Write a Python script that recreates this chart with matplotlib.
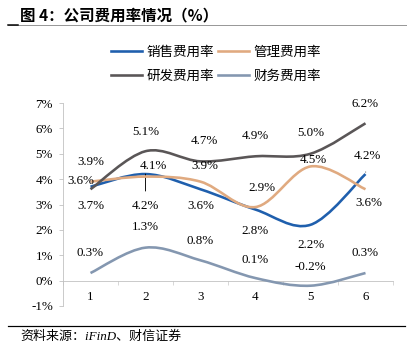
import matplotlib
matplotlib.use("Agg")
import matplotlib.pyplot as plt
from matplotlib.path import Path
from matplotlib.patches import PathPatch
from matplotlib.lines import Line2D

plt.rcParams['font.family'] = ['Liberation Serif', 'Noto Sans CJK SC']

cats = [1, 2, 3, 4, 5, 6]
names = ["销售费用率", "管理费用率", "研发费用率", "财务费用率"]
sales = [3.7, 4.2, 3.6, 2.8, 2.2, 4.2]
mgmt = [3.9, 4.1, 3.9, 2.9, 4.5, 3.6]
rnd = [3.6, 5.1, 4.7, 4.9, 5.0, 6.2]
fin = [0.3, 1.3, 0.8, 0.1, -0.2, 0.3]
colors = ["#1F5FAD", "#E0AA80", "#5A5657", "#8497B0"]

# label offsets in px (dx, dy) for each series
offs = [
    [(0, -19), (0, -32), (0, -17), (0, -21), (0, -20), (2, 18)],
    [(0, 20), (8, 11), (4, 16), (6, 19), (3, 6), (3, -14)],
    [(-10, 8), (0, 19), (4, 20), (0, 20), (0, 21), (0, 19)],
    [(0, 20), (0, 21), (0, 19), (0, 18), (0, 19), (0, 20)],
]


def smooth_path(xs, ys):
    # bezier segments like excel smoothed lines
    pts = list(zip(xs, ys))
    n = len(pts)
    verts = [pts[0]]
    codes = [Path.MOVETO]
    for i in range(n - 1):
        p0 = pts[i - 1] if i > 0 else pts[i]
        p1 = pts[i]
        p2 = pts[i + 1]
        p3 = pts[i + 2] if i + 2 < n else pts[i + 1]
        c1 = (p1[0] + (p2[0] - p0[0]) / 6, p1[1] + (p2[1] - p0[1]) / 6)
        c2 = (p2[0] - (p3[0] - p1[0]) / 6, p2[1] - (p3[1] - p1[1]) / 6)
        verts += [c1, c2, p2]
        codes += [Path.CURVE4] * 3
    return Path(verts, codes)


fig = plt.figure(figsize=(407 / 72, 352 / 72), dpi=72)
ax = fig.add_axes([63 / 407, 1 - 306 / 352, 330 / 407, 203 / 352])

series = [sales, mgmt, rnd, fin]
for k, vals in enumerate(series):
    ax.add_patch(PathPatch(smooth_path(cats, vals), facecolor='none',
                           edgecolor=colors[k], lw=2.6, zorder=3))
    for i, v in enumerate(vals):
        dx, dy = offs[k][i]
        lbl = "%.1f%%" % v
        if (k == 0 and i == 1):
            ax.annotate(lbl, (cats[i], v), xytext=(dx, dy), textcoords='offset points',
                        ha='center', va='center', fontsize=13,
                        arrowprops=dict(arrowstyle='-', color='black', lw=0.9,
                                        shrinkA=7, shrinkB=0))
        elif (k == 0 and i == 5):
            ax.annotate(lbl, (cats[i], v), xytext=(dx, dy), textcoords='offset points',
                        ha='center', va='center', fontsize=13,
                        arrowprops=dict(arrowstyle='-', color='black', lw=0.9,
                                        shrinkA=8, shrinkB=2))
        else:
            ax.annotate(lbl, (cats[i], v), xytext=(dx, dy), textcoords='offset points',
                        ha='center', va='center', fontsize=13, zorder=5)

ax.set_xlim(0.5, 6.5)
ax.set_ylim(-1, 7)
ax.set_yticks(range(-1, 8))
ax.set_yticklabels(["%d%%" % t for t in range(-1, 8)])
ax.set_xticks(cats)
ax.set_xticklabels([str(c) for c in cats])
ax.set_xticks([c + 0.5 for c in [0] + cats], minor=True)
ax.tick_params(axis='x', which='major', length=0, pad=10, labelsize=13)
ax.tick_params(axis='x', which='minor', length=4, color='#BFBFBF', direction='out')
ax.tick_params(axis='y', length=4, color='#BFBFBF', pad=6, labelsize=13)
ax.spines['bottom'].set_position(('data', 0))
ax.spines['bottom'].set_color('#BFBFBF')
ax.spines['left'].set_color('#BFBFBF')
ax.spines['top'].set_visible(False)
ax.spines['right'].set_visible(False)
ax.patch.set_alpha(0)

handles = [Line2D([], [], color=c, lw=2.6) for c in colors]
order = [0, 2, 1, 3]
fig.legend([handles[i] for i in order], [names[i] for i in order], ncol=2,
           loc='center', bbox_to_anchor=(216 / 407, 1 - 64 / 352), frameon=False,
           prop={'family': 'Noto Sans CJK SC', 'size': 13.5},
           handlelength=2.3, handletextpad=0.35, columnspacing=0.25, labelspacing=0.75)

fig.text(20 / 407, 1 - 15 / 352, "图 4：公司费用率情况（%）", fontsize=15.5, fontweight='bold',
         family='Noto Sans CJK SC', va='center', ha='left')
fig.add_artist(Line2D([8 / 407, 1], [1 - 25 / 352] * 2, color='#808080', lw=0.8))
fig.add_artist(Line2D([8 / 407, 18 / 407], [1 - 25 / 352] * 2, color='black', lw=1.5))
fig.add_artist(Line2D([8 / 407, 405 / 407], [1 - 326 / 352] * 2, color='black', lw=1.2))
fig.text(20 / 407, 1 - 337 / 352, "资料来源：iFinD、财信证券", fontsize=13, style='italic',
         family=['Liberation Serif', 'Noto Sans CJK SC'], va='center', ha='left')

fig.savefig("out.png", dpi=72)
